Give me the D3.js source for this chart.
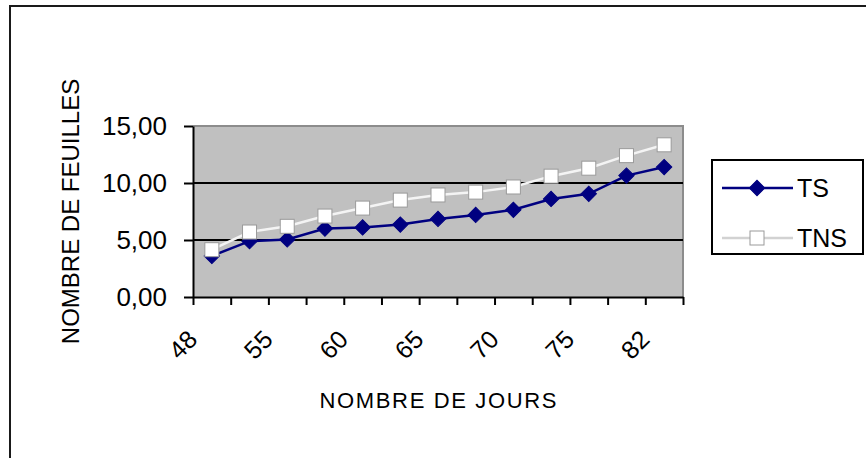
<!DOCTYPE html>
<html>
<head>
<meta charset="utf-8">
<script src="https://cdn.jsdelivr.net/npm/d3@7"></script>
<style>
  html, body { margin: 0; padding: 0; background: #fff; }
  svg { display: block; font-family: "Liberation Sans", Arial, sans-serif; }
</style>
</head>
<body>
<svg id="chart" width="866" height="458"></svg>
<script>
// Day of measurement (every second one is labelled on the axis)
const days = ["48", "51", "55", "58", "60", "63", "65", "68", "70", "73", "75", "79", "82"];
// Leaf counts per treatment
const tsValues  = [3.6, 4.9, 5.05, 6.0, 6.1, 6.35, 6.85, 7.2, 7.65, 8.6, 9.05, 10.65, 11.4];
const tnsValues = [4.15, 5.7, 6.2, 7.1, 7.8, 8.5, 8.95, 9.2, 9.65, 10.6, 11.3, 12.4, 13.35];
const yTicks = [0, 5, 10, 15];
const seriesNames = ["TS", "TNS"];
const yTitle = "NOMBRE DE FEUILLES";
const xTitle = "NOMBRE DE JOURS";

const plot = { left: 193, right: 683, top: 126, bottom: 297 };
const navy = "#000080";
const squareSide = 14;

const svg = d3.select("#chart");

// outer chart frame (right and bottom edges run off the page)
svg.append("rect")
  .attr("x", 10).attr("y", 6)
  .attr("width", 900).attr("height", 500)
  .attr("fill", "#fff")
  .attr("stroke", "#1a1a1a").attr("stroke-width", 2);

const x = d3.scaleBand().domain(days).range([plot.left, plot.right]).padding(0);
const xEdge = d3.scaleLinear().domain([0, days.length]).range([plot.left, plot.right]);
const y = d3.scaleLinear().domain([0, 15]).range([plot.bottom, plot.top]);
const cx = d => x(d) + x.bandwidth() / 2;

// plot area
svg.append("rect")
  .attr("x", plot.left).attr("y", plot.top)
  .attr("width", plot.right - plot.left).attr("height", plot.bottom - plot.top)
  .attr("fill", "#c0c0c0");
svg.append("path")
  .attr("d", `M${plot.left},${plot.top}H${plot.right}V${plot.bottom}`)
  .attr("fill", "none").attr("stroke", "#8c8c8c").attr("stroke-width", 2);

// horizontal gridlines
svg.append("g").selectAll("line")
  .data(yTicks.filter(v => v > 0 && v < 15))
  .join("line")
  .attr("x1", plot.left).attr("x2", plot.right)
  .attr("y1", d => y(d)).attr("y2", d => y(d))
  .attr("stroke", "#000").attr("stroke-width", 2);

// y axis
const yAxis = svg.append("g")
  .attr("transform", `translate(${plot.left},0)`)
  .call(d3.axisLeft(y).tickValues(yTicks).tickSize(9).tickSizeOuter(0).tickPadding(17)
    .tickFormat(d => d3.format(".2f")(d).replace(".", ",")));
yAxis.select(".domain").attr("stroke", "#000").attr("stroke-width", 2);
yAxis.selectAll(".tick line").attr("stroke", "#000").attr("stroke-width", 2);
yAxis.selectAll(".tick text").attr("font-size", 26).attr("fill", "#000")
  .attr("font-family", "Liberation Sans, Arial, sans-serif");

// x axis: ticks on category boundaries
const xAxis = svg.append("g")
  .attr("transform", `translate(0,${plot.bottom})`)
  .call(d3.axisBottom(xEdge).tickValues(d3.range(days.length + 1)).tickSize(8).tickSizeOuter(0).tickFormat(""));
xAxis.select(".domain").attr("stroke", "#000").attr("stroke-width", 2);
xAxis.selectAll(".tick line").attr("stroke", "#000").attr("stroke-width", 2);

// rotated category labels, every second day
svg.append("g").selectAll("text")
  .data(days.filter((d, i) => i % 2 === 0))
  .join("text")
  .attr("transform", d => `translate(${cx(d) - 13},341) rotate(-45)`)
  .attr("text-anchor", "end")
  .attr("font-size", 25)
  .attr("fill", "#000")
  .text(d => d);

// axis titles
svg.append("text")
  .attr("transform", `translate(79,${(plot.top + plot.bottom) / 2}) rotate(-90)`)
  .attr("text-anchor", "middle")
  .attr("font-size", 24)
  .attr("fill", "#000")
  .text(yTitle);

svg.append("text")
  .attr("x", (plot.left + plot.right) / 2).attr("y", 407.5)
  .attr("text-anchor", "middle")
  .attr("font-size", 22)
  .attr("textLength", 237).attr("lengthAdjust", "spacing")
  .attr("fill", "#000")
  .text(xTitle);

const line = d3.line().x((d, i) => cx(days[i])).y(d => y(d));
const diamond = d3.symbol(d3.symbolSquare, 118);

// TS series
svg.append("path").datum(tsValues)
  .attr("d", line).attr("fill", "none")
  .attr("stroke", navy).attr("stroke-width", 2.5);
svg.append("g").selectAll("path")
  .data(tsValues)
  .join("path")
  .attr("d", diamond)
  .attr("transform", (d, i) => `translate(${cx(days[i])},${y(d)}) rotate(45)`)
  .attr("fill", navy).attr("stroke", navy).attr("stroke-width", 1);

// TNS series
svg.append("path").datum(tnsValues)
  .attr("d", line).attr("fill", "none")
  .attr("stroke", "#f4f4f4").attr("stroke-width", 2.5);
svg.append("g").selectAll("rect")
  .data(tnsValues)
  .join("rect")
  .attr("x", (d, i) => cx(days[i]) - squareSide / 2).attr("y", d => y(d) - squareSide / 2)
  .attr("width", squareSide).attr("height", squareSide)
  .attr("fill", "#fff").attr("stroke", "#9a9a9a").attr("stroke-width", 1);

// legend
const legend = svg.append("g");
legend.append("rect")
  .attr("x", 712).attr("y", 160).attr("width", 151).attr("height", 94)
  .attr("fill", "#fff").attr("stroke", "#000").attr("stroke-width", 2);

const rows = [
  { name: seriesNames[0], y: 188, base: 197, stroke: navy },
  { name: seriesNames[1], y: 238, base: 246.5, stroke: "#d2d2d2" }
];
legend.selectAll("line.key").data(rows).join("line")
  .attr("class", "key")
  .attr("x1", 722).attr("x2", 793)
  .attr("y1", d => d.y).attr("y2", d => d.y)
  .attr("stroke", d => d.stroke).attr("stroke-width", 2.5);
legend.append("path")
  .attr("d", diamond)
  .attr("transform", `translate(757,${rows[0].y}) rotate(45)`)
  .attr("fill", navy).attr("stroke", navy);
legend.append("rect")
  .attr("x", 757 - squareSide / 2).attr("y", rows[1].y - squareSide / 2)
  .attr("width", squareSide).attr("height", squareSide)
  .attr("fill", "#fff").attr("stroke", "#9a9a9a");
legend.selectAll("text").data(rows).join("text")
  .attr("x", 797).attr("y", d => d.base)
  .attr("font-size", 25)
  .attr("fill", "#000")
  .text(d => d.name);
</script>
</body>
</html>
